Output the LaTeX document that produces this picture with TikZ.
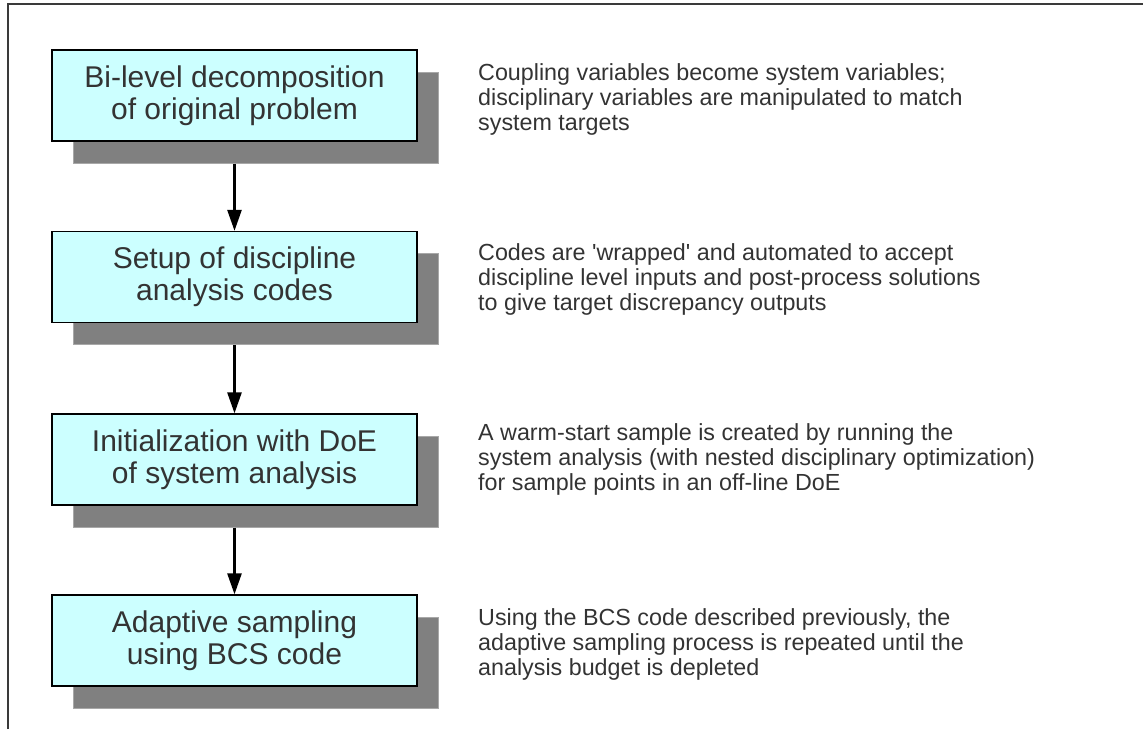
\documentclass[tikz,border=0pt]{standalone}
\usepackage{fontspec}
\setmainfont{Liberation Sans}[Ligatures=TeXOff]
\usetikzlibrary{arrows.meta}
\definecolor{boxfill}{HTML}{CCFFFF}
\definecolor{shadowgray}{HTML}{808080}
\definecolor{shadowedge}{HTML}{A8A8A8}
\definecolor{textgray}{HTML}{333333}
\definecolor{framegray}{HTML}{3A3A3A}
\tikzset{
  stepbox/.style={draw=black, line width=1.3pt, fill=boxfill, minimum width=365pt, minimum height=91pt,
    inner sep=0pt, align=center, text=textgray, font=\fontsize{30}{32}\selectfont},
  shadowbox/.style={draw=shadowedge, line width=1pt, fill=shadowgray, minimum width=365pt, minimum height=91pt, inner sep=0pt},
  note/.style={anchor=north west, inner sep=0pt, align=left, text=textgray, font=\fontsize{23.3}{25.3}\selectfont},
  flow/.style={line width=2.6pt, -{Triangle[length=21pt,width=14pt]}},
  frameline/.style={draw=framegray, line width=1.6pt}
}
\begin{document}
\begin{tikzpicture}[x=1pt,y=-1pt]
\useasboundingbox (0,0) rectangle (1143,729);
\draw[frameline] (8,729) -- (8,4) -- (1143,4);
% shadows
\node[shadowbox] (s1) at (255.5,117.5) {};
\node[shadowbox] (s2) at (255.5,299) {};
\node[shadowbox] (s3) at (255.5,481.5) {};
\node[shadowbox] (s4) at (255.5,662.5) {};
% boxes
\node[stepbox] (b1) at (234.5,95.5) {Bi-level decomposition\\of original problem};
\node[stepbox] (b2) at (234.5,277) {Setup of discipline\\analysis codes};
\node[stepbox] (b3) at (234.5,459.5) {Initialization with DoE\\of system analysis};
\node[stepbox] (b4) at (234.5,640.5) {Adaptive sampling\\using BCS code};
% arrows
\draw[flow] (s1.south -| b1.south) -- (b2.north);
\draw[flow] (s2.south -| b2.south) -- (b3.north);
\draw[flow] (s3.south -| b3.south) -- (b4.north);
% notes
\node[note] (n1) at (478,63) {Coupling variables become system variables;\\disciplinary variables are manipulated to match\\system targets};
\node[note] (n2) at (478,243) {Codes are 'wrapped' and automated to accept\\discipline level inputs and post-process solutions\\to give target discrepancy outputs};
\node[note] (n3) at (478,423) {A warm-start sample is created by running the\\system analysis (with nested disciplinary optimization)\\for sample points in an off-line DoE};
\node[note] (n4) at (478,608) {Using the BCS code described previously, the\\adaptive sampling process is repeated until the\\analysis budget is depleted};
\end{tikzpicture}
\end{document}
